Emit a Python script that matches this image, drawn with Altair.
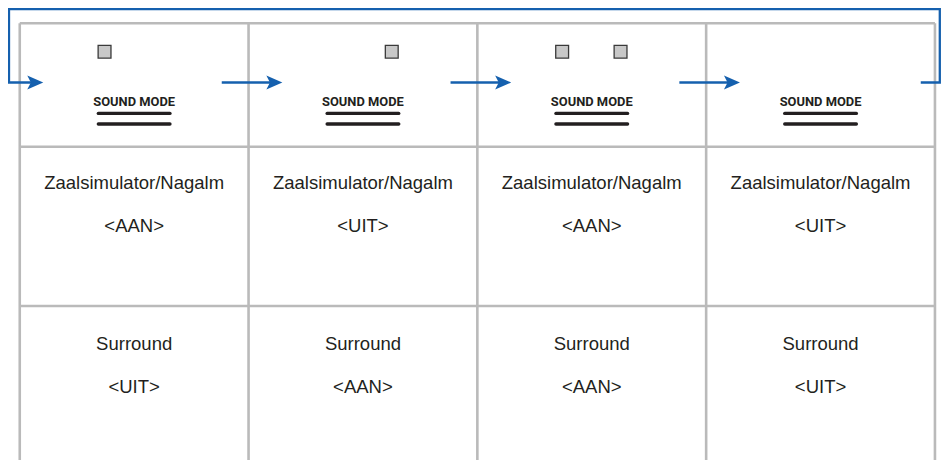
import altair as alt
import pandas as pd

# ---------------- data ----------------
hall_label = "Zaalsimulator/Nagalm"
surround_label = "Surround"
hall_state = ["<AAN>", "<UIT>", "<AAN>", "<UIT>"]
surround_state = ["<UIT>", "<AAN>", "<AAN>", "<UIT>"]
panel_title = "SOUND MODE"

# ---------------- layout (reference pixel units) ----------------
COL_X0 = 19.75
COL_W = 228.8
N = len(hall_state)
bounds = [COL_X0 + i * COL_W for i in range(N + 1)]
centers = [b + COL_W / 2 for b in bounds[:-1]]
ROW_Y = [23.3, 146.8, 306.0]
GRID_BOTTOM = 462
ARROW_Y = 82.5
LOOP_TOP = 9
LOOP_LEFT = 9
LOOP_RIGHT = 939.8
BLUE = "#1560ae"
GRAY = "#bababa"
INK = "#231f20"

PLOT_W, PLOT_H = 933, 452
xs = alt.Scale(domain=[8, 8 + PLOT_W], nice=False, zero=False)
ys = alt.Scale(domain=[8, 8 + PLOT_H], nice=False, zero=False, reverse=True)
X = lambda f="x": alt.X(f"{f}:Q", scale=xs, axis=None)
Y = lambda f="y": alt.Y(f"{f}:Q", scale=ys, axis=None)

# grid
gv = pd.DataFrame({"x": bounds, "y": [ROW_Y[0]] * len(bounds), "y2": [GRID_BOTTOM] * len(bounds)})
gh = pd.DataFrame({"y": ROW_Y, "x": [bounds[0]] * 3, "x2": [bounds[-1]] * 3})
grid_v = alt.Chart(gv).mark_rule(color=GRAY, strokeWidth=2.6).encode(x=X(), y=Y(), y2="y2:Q")
grid_h = alt.Chart(gh).mark_rule(color=GRAY, strokeWidth=2.6).encode(x=X(), x2="x2:Q", y=Y())

# blue loop (from last panel back to first)
tips = [bounds[0] + 23.5] + [b + 33.8 for b in bounds[1:-1]]
loop = pd.DataFrame({
    "x": [bounds[-1] - 14.2, LOOP_RIGHT, LOOP_RIGHT, LOOP_LEFT, LOOP_LEFT, tips[0] - 10],
    "y": [ARROW_Y, ARROW_Y, LOOP_TOP, LOOP_TOP, ARROW_Y, ARROW_Y],
    "o": list(range(6)),
})
loop_line = alt.Chart(loop).mark_line(color=BLUE, strokeWidth=2.3, strokeJoin="miter", clip=False).encode(
    x=X(), y=Y(), order="o:Q")

seg = pd.DataFrame({"x": [b - 26.8 for b in bounds[1:-1]], "x2": [t - 10 for t in tips[1:]],
                    "y": [ARROW_Y] * (N - 1)})
seg_rule = alt.Chart(seg).mark_rule(color=BLUE, strokeWidth=2.3).encode(x=X(), x2="x2:Q", y=Y())

heads = pd.DataFrame({"x": [t - 8 for t in tips], "y": [ARROW_Y] * N})
head_pts = alt.Chart(heads).mark_point(
    shape="M1,0L-1,-0.875L-0.55,0L-1,0.875Z", size=256, filled=True, fill=BLUE, stroke=None, opacity=1
).encode(x=X(), y=Y())

# indicator squares
sq_rows = []
for i in range(N):
    if hall_state[i] == "<AAN>":
        sq_rows.append({"x": bounds[i] + 84.8, "y": 51.8})
    if surround_state[i] == "<AAN>":
        sq_rows.append({"x": bounds[i] + 143.2, "y": 51.8})
squares = alt.Chart(pd.DataFrame(sq_rows)).mark_square(
    size=165, fill="#c8c8c8", stroke="#3a3a3a", strokeWidth=1.3, opacity=1
).encode(x=X(), y=Y())

# SOUND MODE title and underlines
sm = pd.DataFrame({"x": centers, "y": [106.0] * N, "t": [panel_title] * N})
sm_text = alt.Chart(sm).mark_text(
    font="Roboto, sans-serif",
    fontWeight="bold", fontSize=12.9, color=INK, baseline="alphabetic", align="center"
).encode(x=X(), y=Y(), text="t:N")

ul_rows = []
for c in centers:
    for yy in (113.4, 124.0):
        ul_rows.append({"x": c - 35.8, "x2": c + 35.8, "y": yy})
underl = alt.Chart(pd.DataFrame(ul_rows)).mark_rule(
    color=INK, strokeWidth=3.4, strokeCap="round").encode(x=X(), x2="x2:Q", y=Y())

# labels
lab_rows = []
for i, c in enumerate(centers):
    lab_rows.append({"x": c, "y": 189.0, "t": hall_label})
    lab_rows.append({"x": c, "y": 231.5, "t": hall_state[i]})
    lab_rows.append({"x": c, "y": 350.0, "t": surround_label})
    lab_rows.append({"x": c, "y": 392.5, "t": surround_state[i]})
labels = alt.Chart(pd.DataFrame(lab_rows)).mark_text(
    font="Liberation Sans, Arial, sans-serif", fontSize=18.5, color=INK,
    baseline="alphabetic", align="center"
).encode(x=X(), y=Y(), text="t:N")

chart = alt.layer(
    grid_v, grid_h, loop_line, seg_rule, head_pts, squares, underl, sm_text, labels
).properties(
    width=PLOT_W, height=PLOT_H, padding=0,
    autosize=alt.AutoSizeParams(type="none"),
    background="white",
).configure_view(stroke=None)

chart.save("out.html", embed_options={"renderer": "svg", "actions": False})
